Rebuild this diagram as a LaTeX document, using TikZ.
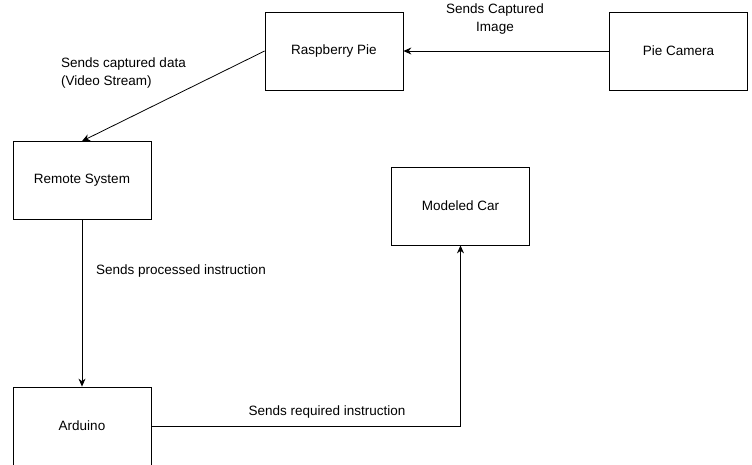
\documentclass[tikz,border=0pt]{standalone}
\usepackage{fontspec}
\setmainfont{Liberation Sans}
\usetikzlibrary{arrows.meta}
\usepackage{xcolor}
\tikzset{
    unit/.style={
        draw,
        rectangle,
        minimum width=138pt,
        minimum height=78pt,
        inner sep=0pt,
        line width=0.8pt,
        font=\fontsize{13.5}{19}\selectfont
    },
    flow/.style={
        draw,
        line width=0.8pt,
        -{Stealth[length=8pt,width=7pt]}
    },
    says/.style={
        inner sep=0pt,
        font=\fontsize{13.5}{18}\selectfont
    }
}

\begin{document}
\begin{tikzpicture}[x=1pt,y=-1pt]
        \useasboundingbox (0,0) rectangle (752,464);
        % units
        \node[unit] (rasp)    at (334,   51)  {Raspberry Pie};
        \node[unit] (cam)     at (678.5, 51)  {Pie Camera};
        \node[unit] (remote)  at (82,    180.5) {Remote System};
        \node[unit] (car)     at (460.5, 206) {Modeled Car};
        \node[unit] (arduino) at (82,    426) {Arduino};
        % flows
        \draw[flow] (cam.west) -- (rasp.east);
        \draw[flow] (rasp.west) -- (remote.north);
        \draw[flow] (remote.south) -- (arduino.north);
        \draw[flow] (arduino.east) -| (car.south);
        % labels
        \node[says,align=center] (capimg) at (495, 19.5) {Sends Captured\\Image};
        \node[says,align=left,anchor=west] (capdata) at (61, 73) {Sends captured data\\(Video Stream)};
        \node[says,anchor=west] (procins) at (96, 271) {Sends processed instruction};
        \node[says] (reqins) at (327, 412) {Sends required instruction};
    \end{tikzpicture}
\end{document}
